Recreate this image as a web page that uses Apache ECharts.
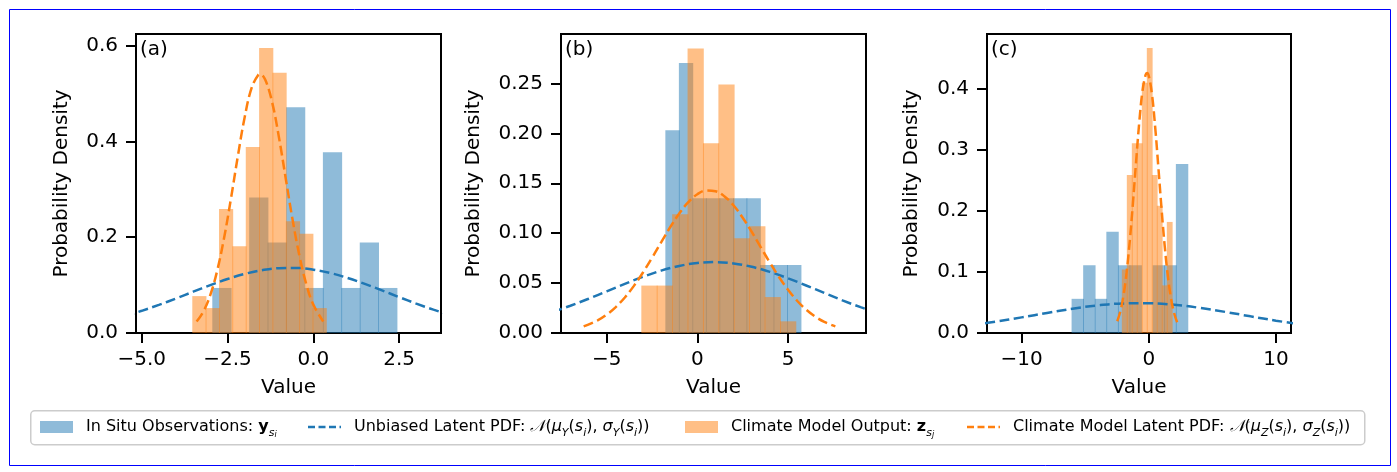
<!DOCTYPE html>
<html><head><meta charset="utf-8">
<script src="https://cdn.jsdelivr.net/npm/echarts@6/dist/echarts.min.js"></script>
<style>html,body{margin:0;padding:0;background:#fff}#chart{width:1397px;height:472px}</style>
</head><body><div id="chart"></div>
<script>
// ---------------- DATA ----------------
const panelLabels = ['(a)', '(b)', '(c)'];
const xAxisTitle = 'Value';
const yAxisTitle = 'Probability Density';

// Panel (a)
const aObsEdges = [-2.943, -2.406, -1.869, -1.332, -0.795, -0.258, 0.279, 0.816, 1.353, 1.890, 2.427];
const aObsDensity = [0.094, 0, 0.283, 0.189, 0.471, 0.094, 0.377, 0.094, 0.189, 0.094];
const aModelEdges = [-3.526, -3.137, -2.747, -2.358, -1.968, -1.579, -1.189, -0.800, -0.410, -0.021, 0.369];
const aModelDensity = [0.077, 0.052, 0.259, 0.181, 0.388, 0.595, 0.543, 0.233, 0.207, 0.052];
const aObsPdfX = [-5.5, -5, -4.5, -4, -3.5, -3, -2.5, -2, -1.5, -1, -0.5, 0, 0.5, 1, 1.5, 2, 2.5, 3, 3.5, 4];
const aObsPdfY = [0.0355, 0.0463, 0.0587, 0.0721, 0.0862, 0.0999, 0.1126, 0.1233, 0.1310, 0.1353, 0.1357, 0.1322, 0.1251, 0.1149, 0.1026, 0.0889, 0.0749, 0.0613, 0.0487, 0.0376];
const aModelPdfX = [-3.40, -3.2, -3.0, -2.8, -2.6, -2.4, -2.2, -2.0, -1.8, -1.6, -1.55, -1.4, -1.2, -1.0, -0.8, -0.6, -0.4, -0.2, 0.0, 0.29];
const aModelPdfY = [0.0239, 0.0452, 0.0796, 0.1303, 0.1983, 0.2804, 0.3685, 0.4501, 0.5109, 0.5389, 0.540, 0.5284, 0.4815, 0.4077, 0.3209, 0.2347, 0.1596, 0.1008, 0.0592, 0.0240];
const aXTicks = [-5, -2.5, 0, 2.5];
const aYTicks = [0, 0.2, 0.4, 0.6];

// Panel (b)
const bObsEdges = [-1.765, -1.019, -0.273, 0.473, 1.219, 1.965, 2.711, 3.457, 4.203, 4.949, 5.695];
const bObsDensity = [0.203, 0.2705, 0.135, 0.135, 0.135, 0.135, 0.135, 0.068, 0.068, 0.068];
const bModelEdges = [-3.09, -2.24, -1.39, -0.54, 0.31, 1.16, 2.01, 2.86, 3.71, 4.56, 5.41];
const bModelDensity = [0.0475, 0.0475, 0.119, 0.285, 0.190, 0.249, 0.095, 0.107, 0.036, 0.0117];
const bObsPdfX = [-8, -7, -6, -5, -4, -3, -2, -1, 0, 1, 2, 3, 4, 5, 6, 7, 8, 9, 10];
const bObsPdfY = [0.0211, 0.0273, 0.0343, 0.0417, 0.0492, 0.0563, 0.0625, 0.0672, 0.0701, 0.0710, 0.0697, 0.0663, 0.0612, 0.0548, 0.0476, 0.0401, 0.0327, 0.0259, 0.0199];
const bModelPdfX = [-6.27, -5.5, -5, -4.5, -4, -3.5, -3, -2.5, -2, -1.5, -1, -0.5, 0, 0.5, 1, 1.5, 2, 2.5, 3, 3.5, 4, 4.5, 5, 5.5, 6, 6.5, 7, 7.61];
const bModelPdfY = [0.0066, 0.0126, 0.0184, 0.0260, 0.0356, 0.0472, 0.0606, 0.0753, 0.0908, 0.1059, 0.1197, 0.1310, 0.1390, 0.1427, 0.1420, 0.1368, 0.1277, 0.1155, 0.1012, 0.0858, 0.0705, 0.0561, 0.0433, 0.0323, 0.0234, 0.0164, 0.0111, 0.0066];
const bXTicks = [-5, 0, 5];
const bYTicks = [0, 0.05, 0.10, 0.15, 0.20, 0.25];

// Panel (c)
const cObsEdges = [-6.07, -5.159, -4.248, -3.337, -2.426, -1.515, -0.604, 0.307, 1.218, 2.129, 3.04];
const cObsDensity = [0.056, 0.111, 0.056, 0.166, 0.111, 0.111, 0, 0.111, 0.111, 0.277];
const cModelEdges = [-2.12, -1.727, -1.334, -0.941, -0.548, -0.155, 0.238, 0.631, 1.024, 1.417, 1.81];
const cModelDensity = [0.104, 0.259, 0.311, 0.311, 0.41, 0.467, 0.259, 0.2085, 0.078, 0.182];
const cObsPdfX = [-14, -12, -10, -8, -6, -4, -2, 0, 2, 4, 6, 8, 10, 12];
const cObsPdfY = [0.0129, 0.0187, 0.0256, 0.0329, 0.0398, 0.0453, 0.0484, 0.0488, 0.0462, 0.0412, 0.0346, 0.0273, 0.0202, 0.0141];
const cModelPdfX = [-2.48, -2.25, -2.0, -1.75, -1.5, -1.25, -1.0, -0.75, -0.5, -0.25, -0.14, 0, 0.25, 0.5, 0.75, 1.0, 1.25, 1.5, 1.75, 2.0, 2.23];
const cModelPdfY = [0.0192, 0.0343, 0.0601, 0.0983, 0.1496, 0.2121, 0.2803, 0.3451, 0.3959, 0.4231, 0.426, 0.4213, 0.3909, 0.3379, 0.2721, 0.2042, 0.1428, 0.0930, 0.0564, 0.0319, 0.0177];
const cXTicks = [-10, 0, 10];
const cYTicks = [0, 0.1, 0.2, 0.3, 0.4];

// ---------------- STYLE / LAYOUT ----------------
const FONT = 'DejaVu Sans';
const BLUE = '#1f77b4', ORANGE = '#ff7f0e';
const BLUE_FILL = 'rgba(31,119,180,0.5)', ORANGE_FILL = 'rgba(255,127,14,0.5)';
const DASH = [10, 4.5];
const DASH_ICON = 'path://M0,0h7v2.5h-7z M10.5,0h7v2.5h-7z M21,0h7v2.5h-7z M31.5,0h1.5v2.5h-1.5z';

const panels = [
  {obsE: aObsEdges, obsD: aObsDensity, modE: aModelEdges, modD: aModelDensity,
   opx: aObsPdfX, opy: aObsPdfY, mpx: aModelPdfX, mpy: aModelPdfY,
   xt: aXTicks, yt: aYTicks, xdec: 1, ydec: 1, xmin: -5.166, xmax: 3.72, ymax: 0.624, left: 136, width: 305, nameGap: 64},
  {obsE: bObsEdges, obsD: bObsDensity, modE: bModelEdges, modD: bModelDensity,
   opx: bObsPdfX, opy: bObsPdfY, mpx: bModelPdfX, mpy: bModelPdfY,
   xt: bXTicks, yt: bYTicks, xdec: 0, ydec: 2, xmin: -7.52, xmax: 9.30, ymax: 0.2995, left: 561, width: 305, nameGap: 77},
  {obsE: cObsEdges, obsD: cObsDensity, modE: cModelEdges, modD: cModelDensity,
   opx: cObsPdfX, opy: cObsPdfY, mpx: cModelPdfX, mpy: cModelPdfY,
   xt: cXTicks, yt: cYTicks, xdec: 0, ydec: 1, xmin: -12.72, xmax: 11.18, ymax: 0.49, left: 987, width: 304, nameGap: 65}
];
const labelLefts = [140, 565, 991];

function fmt(v, d) { return v.toFixed(d).replace('-', '\u2212'); }
function histData(edges, dens) { return dens.map((h, i) => [edges[i], edges[i + 1], h]); }
function pairs(xs, ys) { return xs.map((x, i) => [x, ys[i]]); }
function histRender(fill) {
  return function (params, api) {
    const x0 = api.value(0), x1 = api.value(1), h = api.value(2);
    if (!h) return null;
    const p0 = api.coord([x0, h]);
    const p1 = api.coord([x1, 0]);
    return {type: 'rect', shape: {x: p0[0], y: p0[1], width: p1[0] - p0[0] + 0.8, height: p1[1] - p0[1]},
            style: {fill: fill}};
  };
}

const grids = [], xAxes = [], yAxes = [], series = [];
panels.forEach((p, i) => {
  grids.push({left: p.left, top: 34, width: p.width, height: 299, show: true, borderColor: '#000', borderWidth: 2, backgroundColor: 'transparent'});
  xAxes.push({type: 'value', gridIndex: i, min: p.xmin, max: p.xmax,
    name: xAxisTitle, nameLocation: 'middle', nameGap: 45,
    nameTextStyle: {fontSize: 20, color: '#000', fontFamily: FONT},
    axisLine: {show: true, onZero: false, lineStyle: {color: '#000', width: 2}},
    axisTick: {show: true, length: 10, lineStyle: {color: '#000', width: 2}, customValues: p.xt},
    axisLabel: {show: true, margin: 17, fontSize: 20, color: '#000', fontFamily: FONT, customValues: p.xt, formatter: v => fmt(v, p.xdec)},
    splitLine: {show: false}});
  yAxes.push({type: 'value', gridIndex: i, min: 0, max: p.ymax,
    name: yAxisTitle, nameLocation: 'middle', nameGap: p.nameGap, nameRotate: 90,
    nameTextStyle: {fontSize: 20, color: '#000', fontFamily: FONT},
    axisLine: {show: true, onZero: false, lineStyle: {color: '#000', width: 2}},
    axisTick: {show: true, length: 10, lineStyle: {color: '#000', width: 2}, customValues: p.yt},
    axisLabel: {show: true, margin: 18, fontSize: 20, color: '#000', fontFamily: FONT, customValues: p.yt, formatter: v => fmt(v, p.ydec)},
    splitLine: {show: false}});
  series.push({name: 'obs', type: 'custom', xAxisIndex: i, yAxisIndex: i, clip: true, z: 2,
    renderItem: histRender(BLUE_FILL), itemStyle: {color: BLUE_FILL}, encode: {x: [0, 1], y: 2},
    data: histData(p.obsE, p.obsD)});
  series.push({name: 'model', type: 'custom', xAxisIndex: i, yAxisIndex: i, clip: true, z: 2,
    renderItem: histRender(ORANGE_FILL), itemStyle: {color: ORANGE_FILL}, encode: {x: [0, 1], y: 2},
    data: histData(p.modE, p.modD)});
  series.push({name: 'obsPdf', type: 'line', xAxisIndex: i, yAxisIndex: i, clip: true, z: 5,
    symbol: 'none', showSymbol: false, smooth: 0.4, lineStyle: {color: BLUE, width: 2.5, type: DASH}, itemStyle: {color: BLUE},
    data: pairs(p.opx, p.opy)});
  series.push({name: 'modelPdf', type: 'line', xAxisIndex: i, yAxisIndex: i, clip: true, z: 5,
    symbol: 'none', showSymbol: false, smooth: 0.4, lineStyle: {color: ORANGE, width: 2.5, type: DASH}, itemStyle: {color: ORANGE},
    data: pairs(p.mpx, p.mpy)});
});

const rich = {
  b: {fontSize: 16, fontWeight: 'bold', fontFamily: FONT, color: '#000', lineHeight: 24, verticalAlign: 'middle'},
  i: {fontSize: 16, fontStyle: 'italic', fontFamily: FONT, color: '#000', lineHeight: 24, verticalAlign: 'middle'},
  cal: {fontSize: 16, fontStyle: 'italic', fontFamily: 'DejaVu Serif', color: '#000', lineHeight: 24, verticalAlign: 'middle'},
  s: {fontSize: 11, fontStyle: 'italic', fontFamily: FONT, color: '#000', lineHeight: 12, verticalAlign: 'bottom'},
  ss: {fontSize: 8, fontStyle: 'italic', fontFamily: FONT, color: '#000', lineHeight: 8, verticalAlign: 'bottom'}
};
const legendText = {
  obs: 'In Situ Observations: {b|y}{s|s}{ss|i}',
  obsPdf: 'Unbiased Latent PDF: {cal|\uD835\uDCA9}({i|\u03BC}{s|Y}({i|s}{s|i}), {i|\u03C3}{s|Y}({i|s}{s|i}))',
  model: 'Climate Model Output: {b|z}{s|s}{ss|j}',
  modelPdf: 'Climate Model Latent PDF: {cal|\uD835\uDCA9}({i|\u03BC}{s|Z}({i|s}{s|i}), {i|\u03C3}{s|Z}({i|s}{s|i}))'
};
function legendCfg(name, left, isLine) {
  return {left: left, top: 415, padding: 0, selectedMode: false, itemWidth: 33, itemHeight: isLine ? 2.5 : 12,
    data: [isLine ? {name: name, icon: DASH_ICON} : {name: name, icon: 'rect'}],
    formatter: n => legendText[n],
    textStyle: {fontSize: 16, fontFamily: FONT, color: '#000', lineHeight: 24, padding: [0, 0, 0, 8], rich: rich}};
}

const option = {
  animation: false,
  backgroundColor: '#fff',
  grid: grids, xAxis: xAxes, yAxis: yAxes, series: series,
  legend: [legendCfg('obs', 40, false), legendCfg('obsPdf', 308, true), legendCfg('model', 685, false), legendCfg('modelPdf', 967, true)],
  graphic: [
    {type: 'rect', left: 7, top: 7, z: -10, shape: {width: 1381, height: 456}, style: {fill: 'none', stroke: '#0000ff', lineWidth: 1}},
    {type: 'rect', left: 30, top: 410, z: -5, shape: {width: 1334, height: 34, r: 4}, style: {fill: 'rgba(255,255,255,0.8)', stroke: '#cccccc', lineWidth: 1.5}},
    ...panelLabels.map((t, i) => ({type: 'text', left: labelLefts[i], top: 40, z: 10,
      style: {text: t, fontSize: 20, fontFamily: FONT, fill: '#000'}}))
  ]
};
const chart = echarts.init(document.getElementById('chart'), null, {renderer: 'canvas'});
chart.setOption(option);
</script>
</body></html>
